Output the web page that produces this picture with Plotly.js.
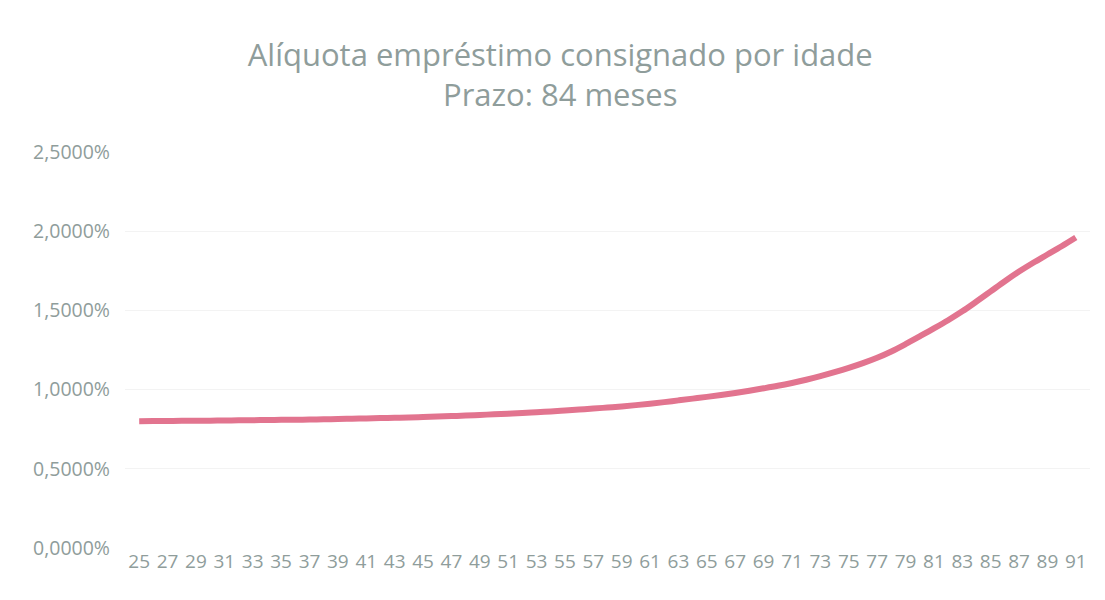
<!DOCTYPE html>
<html>
<head>
<meta charset="utf-8">
<script src="https://cdn.plot.ly/plotly-3.0.1.min.js"></script>
<style>html,body{margin:0;padding:0;background:#fff;}#chart{width:1105px;height:600px;}</style>
</head>
<body>
<div id="chart"></div>
<script>
const ages = [];
for (let a = 25; a <= 91; a++) ages.push(a);
const aliquota = [
  0.800, 0.801, 0.802, 0.803, 0.803, 0.804, 0.805, 0.806, 0.807, 0.808,
  0.809, 0.810, 0.811, 0.813, 0.814, 0.816, 0.818, 0.820, 0.822, 0.824,
  0.827, 0.830, 0.833, 0.836, 0.840, 0.844, 0.848, 0.852, 0.857, 0.862,
  0.868, 0.874, 0.880, 0.887, 0.894, 0.902, 0.911, 0.921, 0.932, 0.943,
  0.954, 0.966, 0.979, 0.993, 1.008, 1.024, 1.042, 1.062, 1.085, 1.110,
  1.137, 1.167, 1.201, 1.241, 1.287, 1.336, 1.386, 1.438, 1.494, 1.556,
  1.620, 1.684, 1.745, 1.801, 1.853, 1.905, 1.960
];
const xTickVals = ages.filter(a => a % 2 === 1);
const yTickVals = [0, 0.5, 1.0, 1.5, 2.0, 2.5];
const yTickText = ['0,0000%', '0,5000%', '1,0000%', '1,5000%', '2,0000%', '2,5000%'];

const fontFam = '"Open Sans", "Noto Sans", sans-serif';
const grey = '#8f9d9b';

Plotly.newPlot('chart', [{
  x: ages,
  y: aliquota,
  type: 'scatter',
  mode: 'lines',
  line: {color: '#e2748f', width: 6, shape: 'spline', smoothing: 1},
  hoverinfo: 'x+y'
}], {
  width: 1105,
  height: 600,
  paper_bgcolor: '#ffffff',
  plot_bgcolor: '#ffffff',
  showlegend: false,
  margin: {l: 125, r: 15, t: 152, b: 52},
  title: {
    text: 'Alíquota empréstimo consignado por idade<br>Prazo: 84 meses',
    x: 0.507, xanchor: 'center', xref: 'container',
    y: 0.89, yanchor: 'middle', yref: 'container',
    font: {family: fontFam, size: 31, color: grey}
  },
  xaxis: {
    range: [24, 92],
    tickmode: 'array',
    tickvals: xTickVals,
    ticktext: xTickVals.map(String),
    showgrid: false,
    zeroline: false,
    showline: false,
    ticks: '',
    tickangle: 0,
    tickfont: {family: fontFam, size: 19, color: grey}
  },
  yaxis: {
    range: [0, 2.5],
    tickmode: 'array',
    tickvals: yTickVals,
    ticktext: yTickText,
    showgrid: true,
    gridcolor: '#f3f3f3',
    gridwidth: 1,
    zeroline: false,
    showline: false,
    ticks: '',
    ticklabelstandoff: 14,
    tickfont: {family: fontFam, size: 19.5, color: grey}
  }
}, {displayModeBar: false, staticPlot: true});
</script>
</body>
</html>
